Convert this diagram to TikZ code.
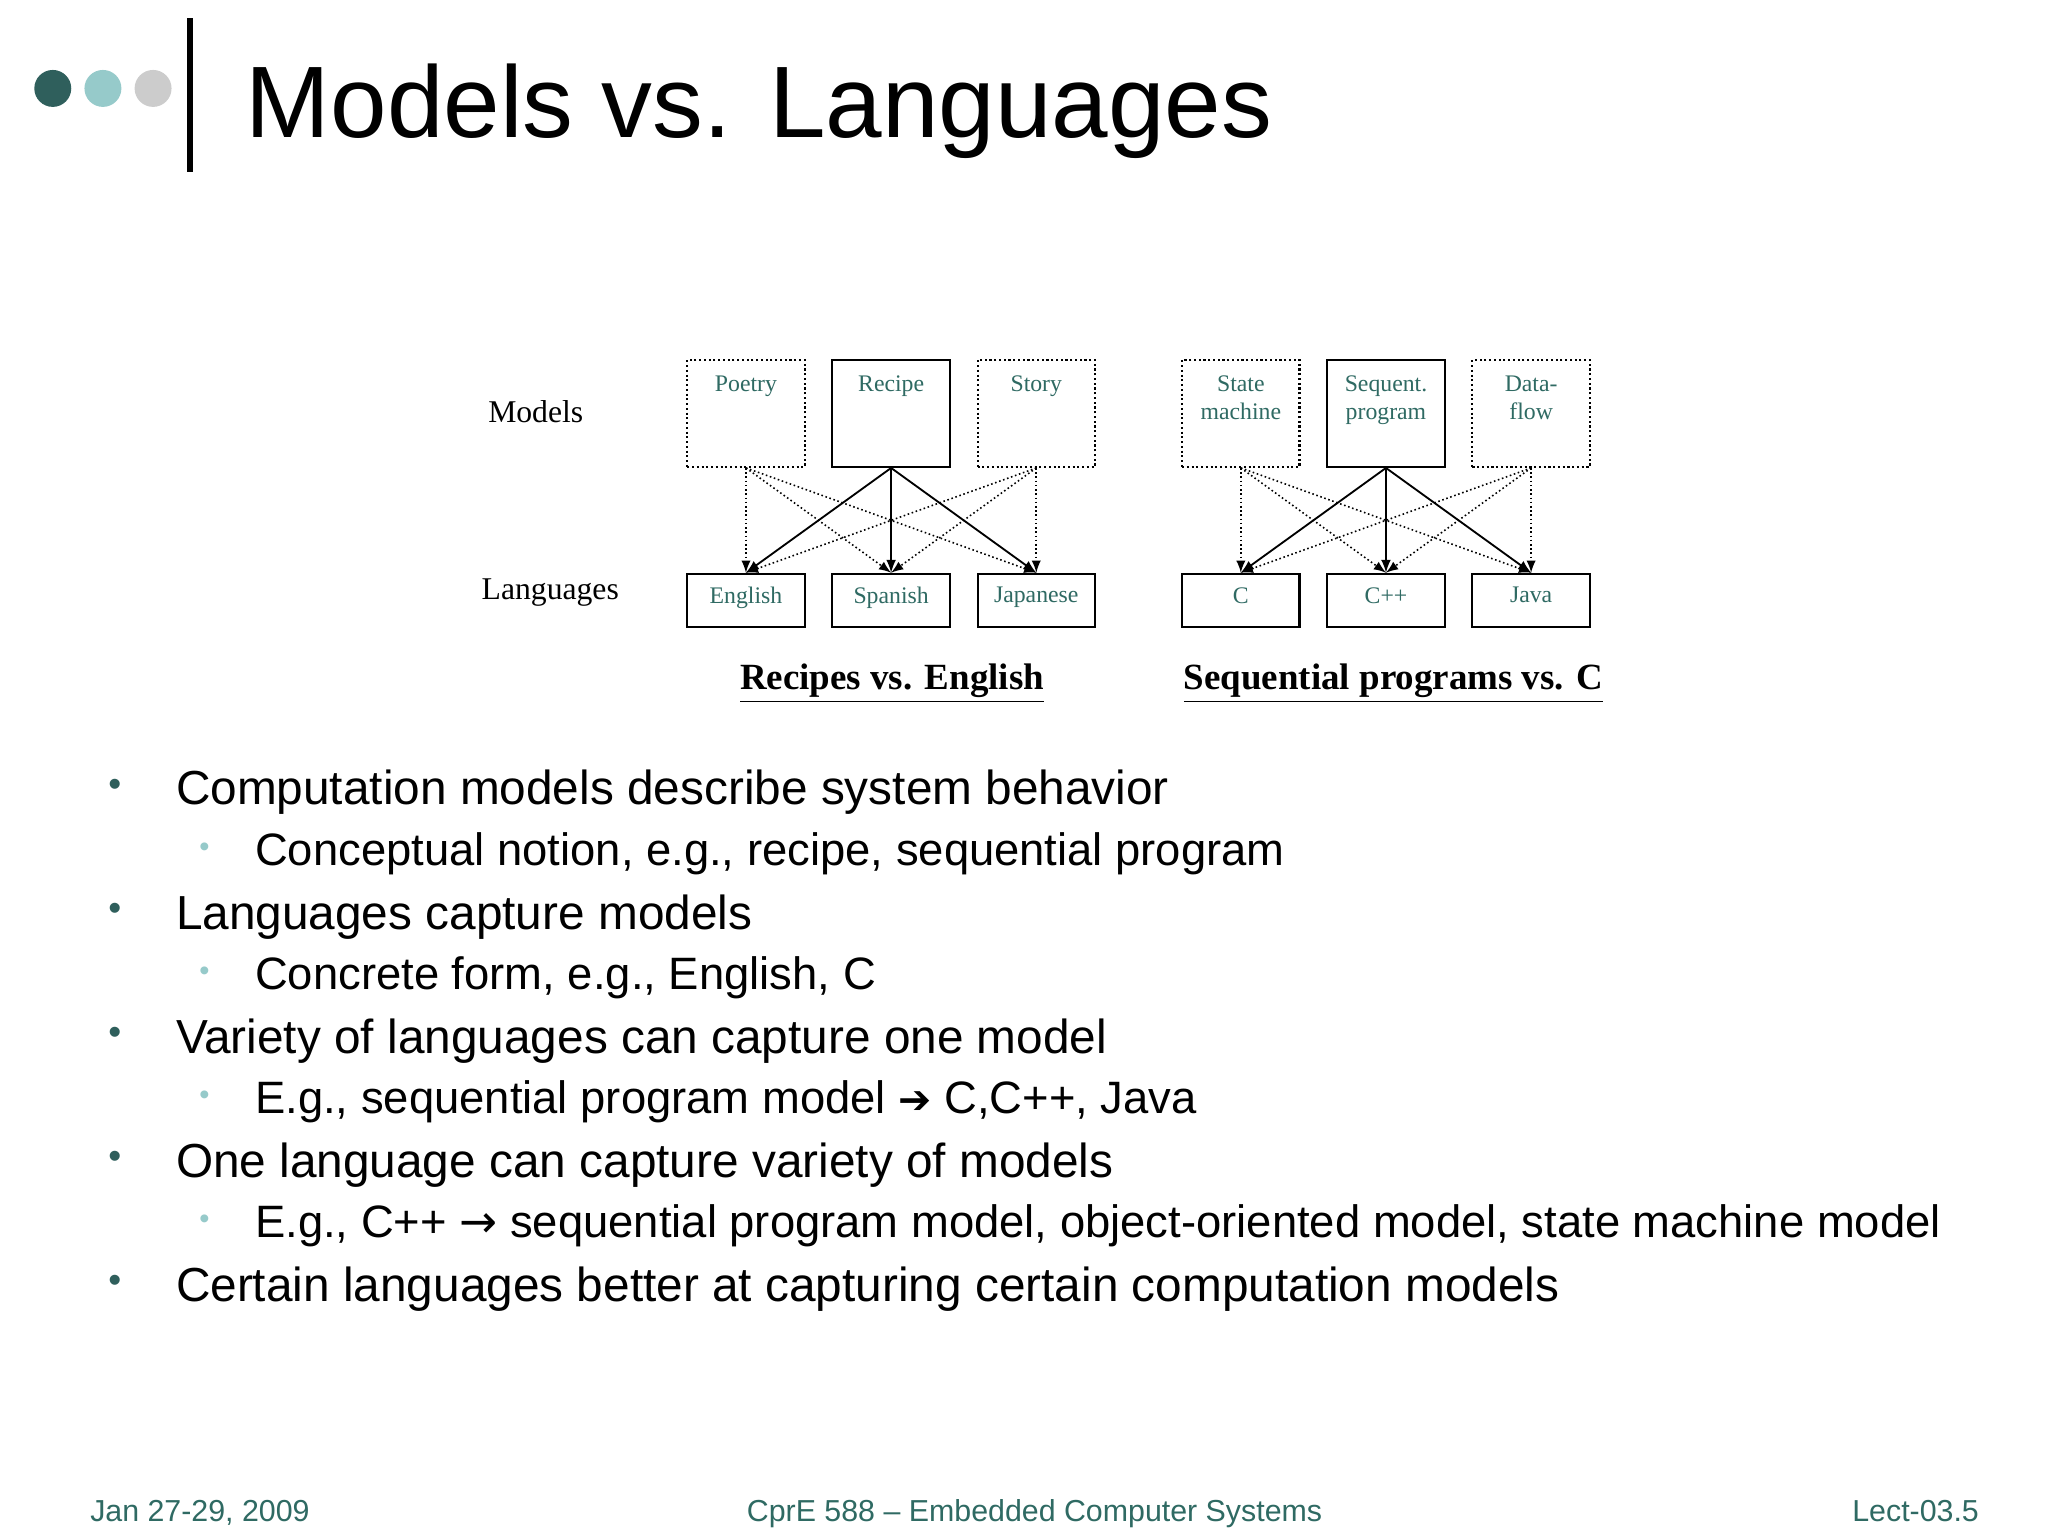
\documentclass[tikz,border=0pt]{standalone}
\usepackage{fontspec}
\setmainfont{Liberation Sans}
\newfontfamily\tms{Liberation Serif}
\newfontfamily\dejav{DejaVu Sans}
\definecolor{teal1}{HTML}{2F5F5C}
\definecolor{teal2}{HTML}{96CACA}
\definecolor{grey1}{HTML}{CCCCCC}
\definecolor{lbl}{HTML}{2F6A63}
\begin{document}
\begin{tikzpicture}[x=0.5pt,y=-0.5pt,
  mbox/.style={draw,line width=0.8pt,minimum width=44.5pt,minimum height=40.5pt,anchor=north west,inner sep=0pt},
  dbox/.style={mbox,densely dotted},
  lbox/.style={draw,line width=0.8pt,minimum width=44.5pt,minimum height=20pt,anchor=north west,inner sep=0pt},
  lab/.style={font=\tms\fontsize{9}{10.5}\selectfont,text=lbl,align=center},
  sa/.style={-latex,line width=0.7pt},
  da/.style={-latex,densely dotted,line width=0.6pt},
  b1/.style={anchor=base west,inner sep=0pt,font=\fontsize{18.1}{21}\selectfont},
  b2/.style={anchor=base west,inner sep=0pt,font=\fontsize{17.2}{20}\selectfont}]
\useasboundingbox (0,0) rectangle (1552,1164);
\fill[white] (0,0) rectangle (1552,1164);
% header
\fill[teal1] (40,67) circle (14);
\fill[teal2] (78,67) circle (14);
\fill[grey1] (116,67) circle (14);
\draw[line width=2.5pt] (144,14) -- (144,130);
\node[anchor=base west,inner sep=0pt,font=\fontsize{38.5}{42}\selectfont] (title) at (186,104) {Models vs. Languages};
% diagram labels
\node[font=\tms\fontsize{12}{14}\selectfont] (mlab) at (406,312) {Models};
\node[font=\tms\fontsize{12}{14}\selectfont] (llab) at (417,449) {Languages};
% top boxes
\node[dbox] (poetry) at (520,272) {};
\node[mbox] (recipe) at (630,272) {};
\node[dbox] (story) at (740,272) {};
\node[dbox] (state) at (895,272) {};
\node[mbox] (seq) at (1005,272) {};
\node[dbox] (data) at (1115,272) {};
\node[lab,anchor=north] at ([yshift=-3pt]poetry.north) {Poetry};
\node[lab,anchor=north] at ([yshift=-3pt]recipe.north) {Recipe};
\node[lab,anchor=north] at ([yshift=-3pt]story.north) {Story};
\node[lab,anchor=north] at ([yshift=-3pt]state.north) {State\\machine};
\node[lab,anchor=north] at ([yshift=-3pt]seq.north) {Sequent.\\program};
\node[lab,anchor=north] at ([yshift=-3pt]data.north) {Data-\\flow};
% bottom boxes
\node[lbox] (eng) at (520,434) {};
\node[lbox] (spa) at (630,434) {};
\node[lbox] (jap) at (740,434) {};
\node[lbox] (c) at (895,434) {};
\node[lbox] (cpp) at (1005,434) {};
\node[lbox] (java) at (1115,434) {};
\node[lab,anchor=north] at ([yshift=-2pt]eng.north) {English};
\node[lab,anchor=north] at ([yshift=-2pt]spa.north) {Spanish};
\node[lab,anchor=north] at ([yshift=-2pt]jap.north) {Japanese};
\node[lab,anchor=north] at ([yshift=-2pt]c.north) {C};
\node[lab,anchor=north] at ([yshift=-2pt]cpp.north) {C++};
\node[lab,anchor=north] at ([yshift=-2pt]java.north) {Java};
% arrows
\foreach \s/\t in {poetry/eng,poetry/spa,poetry/jap,story/eng,story/spa,story/jap,state/c,state/cpp,state/java,data/c,data/cpp,data/java}
  \draw[da] (\s.south) -- (\t.north);
\foreach \s/\t in {recipe/eng,recipe/spa,recipe/jap,seq/c,seq/cpp,seq/java}
  \draw[sa] (\s.south) -- (\t.north);
\node[font=\tms\bfseries\fontsize{14}{16}\selectfont] (cap1) at (676,518) {\underline{Recipes vs. English}};
\node[font=\tms\bfseries\fontsize{14}{16}\selectfont] (cap2) at (1056,518) {\underline{Sequential programs vs. C}};
% bullets
\foreach \y in {610,704,798,892,986} \node[text=teal1,font=\fontsize{14}{16}\selectfont] at (87,\y-13) {•};
\foreach \y in {656,750,844,938} \node[text=teal2,font=\fontsize{11}{13}\selectfont] at (155,\y-12) {•};
\node[b1] (t1) at (133,610) {Computation models describe system behavior};
\node[b2] (t2) at (193,656) {Conceptual notion, e.g., recipe, sequential program};
\node[b1] (t3) at (133,704) {Languages capture models};
\node[b2] (t4) at (193,750) {Concrete form, e.g., English, C};
\node[b1] (t5) at (133,798) {Variety of languages can capture one model};
\node[b2] (t6) at (193,844) {E.g., sequential program model {\dejav\bfseries\fontsize{15}{16}\selectfont ➔} C,C++, Java};
\node[b1] (t7) at (133,892) {One language can capture variety of models};
\node[b2] (t8) at (193,938) {E.g., C++ {\dejav →} sequential program model, object-oriented model, state machine model};
\node[b1] (t9) at (133,986) {Certain languages better at capturing certain computation models};
% footer
\node[anchor=base west,inner sep=0pt,text=lbl,font=\fontsize{11.5}{13}\selectfont] (f1) at (68,1153) {Jan 27-29, 2009};
\node[anchor=base,inner sep=0pt,text=lbl,font=\fontsize{11.5}{13}\selectfont] (f2) at (784,1153) {CprE 588 – Embedded Computer Systems};
\node[anchor=base east,inner sep=0pt,text=lbl,font=\fontsize{11.5}{13}\selectfont] (f3) at (1500,1153) {Lect-03.5};
\end{tikzpicture}
\end{document}
